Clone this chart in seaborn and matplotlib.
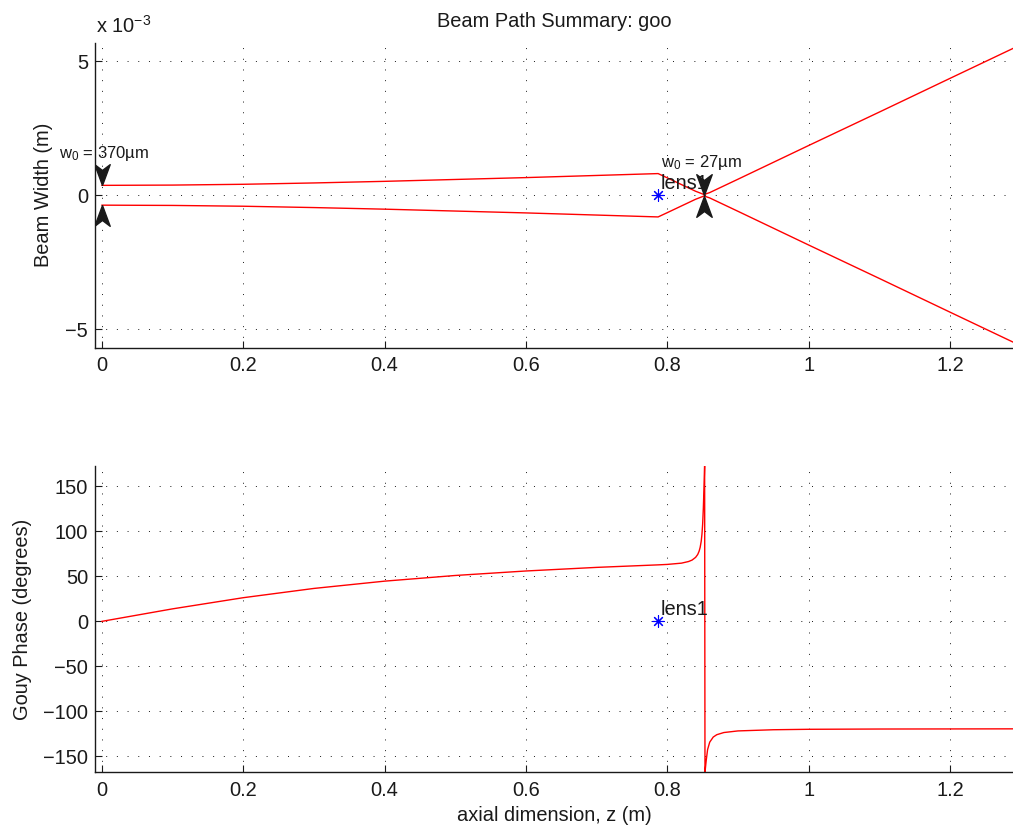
import numpy as np
import matplotlib
matplotlib.use('Agg')
import matplotlib.pyplot as plt
from matplotlib.path import Path
from matplotlib.ticker import FuncFormatter
import seaborn as sns

# beam radius along the path (m)
beam_z = [0.0, 0.1, 0.2, 0.3, 0.4, 0.5, 0.6, 0.7, 0.787, 0.80, 0.82, 0.84,
          0.852, 0.86, 0.90, 1.0, 1.1, 1.2, 1.29]
beam_w = [0.37e-3, 0.38e-3, 0.41e-3, 0.46e-3, 0.52e-3, 0.59e-3, 0.66e-3, 0.74e-3,
          0.81e-3, 0.65e-3, 0.40e-3, 0.15e-3, 0.027e-3, 0.10e-3, 0.60e-3,
          1.86e-3, 3.11e-3, 4.37e-3, 5.50e-3]

# gouy phase (degrees)
gouy_z = [0.0, 0.1, 0.2, 0.3, 0.4, 0.5, 0.6, 0.7, 0.787, 0.80, 0.82, 0.83, 0.835,
          0.84, 0.843, 0.845, 0.8465, 0.848, 0.849, 0.850, 0.851, 0.852, 0.8525,
          0.8528, 0.8533, 0.855, 0.857, 0.86, 0.865, 0.87, 0.88, 0.90, 0.95,
          1.0, 1.1, 1.2, 1.29]
gouy_deg = [0.0, 13.9, 26.3, 36.6, 44.7, 51.0, 56.0, 60.0, 62.8, 63.3, 64.7, 66.5,
            68.1, 71.1, 74.3, 78.0, 82.3, 89.2, 96.6, 108.0, 126.0, 150.9, 164.0,
            172.6, -167.7, -154.8, -142.4, -134.2, -128.5, -125.9, -123.5, -121.7,
            -120.4, -119.9, -119.6, -119.5, -119.4]

# optics and waists
lens_z = [0.787]
lens_names = ['lens1']
waist_z = [0.0, 0.852]
waist_w = [0.37e-3, 0.027e-3]
waist_labels = ['w$_0$ = 370\u00b5m', 'w$_0$ = 27\u00b5m']

sns.set_theme(style='white')
plt.rcParams['font.family'] = ['Liberation Sans', 'DejaVu Sans']
plt.rcParams['mathtext.fontset'] = 'custom'
plt.rcParams['mathtext.rm'] = 'Liberation Sans'
plt.rcParams['mathtext.it'] = 'Liberation Sans:italic'
plt.rcParams['mathtext.bf'] = 'Liberation Sans:bold'
plt.rcParams['text.color'] = 'k'
plt.rcParams['axes.labelcolor'] = 'k'
fs = 14.4


def fmt(scale=1.0):
    return FuncFormatter(lambda v, p: f'{v * scale:g}'.replace('-', '\u2212'))


# matlab style arrow heads (tip at the point)
down_head = Path([(0, 0), (-0.37, 1), (0, 0.72), (0.37, 1), (0, 0)])
up_head = Path([(0, 0), (-0.37, -1), (0, -0.72), (0.37, -1), (0, 0)])

fig = plt.figure(figsize=(10.13, 8.3), dpi=100)
ax1 = fig.add_axes([0.0938, 0.581, 0.9062, 0.3675])
ax2 = fig.add_axes([0.0938, 0.0695, 0.9062, 0.369])

# top panel: beam width
upper = np.array(beam_w)
sns.lineplot(x=beam_z, y=upper, color='red', lw=1, ax=ax1, estimator=None, sort=False)
sns.lineplot(x=beam_z, y=-upper, color='red', lw=1, ax=ax1, estimator=None, sort=False)
ax1.plot(waist_z, waist_w, ls='none', marker=down_head, ms=30, color='k', zorder=5)
ax1.plot(waist_z, -np.array(waist_w), ls='none', marker=up_head, ms=30, color='k', zorder=5)
for z, w, lab in zip(waist_z, waist_w, waist_labels):
    ax1.annotate(lab, xy=(z, w), xytext=(-31, 20), textcoords='offset points',
                 ha='left', va='baseline', fontsize=12, zorder=4)

for ax in (ax1, ax2):
    sns.scatterplot(x=lens_z, y=[0] * len(lens_z), marker=(8, 2, 0), s=70,
                    color='blue', linewidth=0.8, ax=ax, zorder=3)
    for z, name in zip(lens_z, lens_names):
        ax.annotate(name, xy=(z, 0), xytext=(2, 4.5), textcoords='offset points',
                    ha='left', va='baseline', fontsize=fs, zorder=3)

ax1.set_ylim(-5.7e-3, 5.7e-3)
ax1.set_yticks([-5e-3, 0, 5e-3])
ax1.yaxis.set_major_formatter(fmt(1e3))
ax1.set_ylabel('Beam Width (m)', fontsize=fs)
ax1.yaxis.set_label_coords(-0.046, 0.5)
ax1.set_title('Beam Path Summary: goo', fontsize=fs, pad=11)
ax1.annotate('x 10$^{-3}$', xy=(0, 1), xycoords='axes fraction', xytext=(1, 7),
             textcoords='offset points', ha='left', va='baseline', fontsize=fs)

# bottom panel: gouy phase
sns.lineplot(x=gouy_z, y=gouy_deg, color='red', lw=1, ax=ax2, estimator=None, sort=False)
ax2.set_ylim(min(gouy_deg), max(gouy_deg))
ax2.set_yticks([-150, -100, -50, 0, 50, 100, 150])
ax2.yaxis.set_major_formatter(fmt())
ax2.set_ylabel('Gouy Phase (degrees)', fontsize=fs)
ax2.yaxis.set_label_coords(-0.0686, 0.5)
ax2.set_xlabel('axial dimension, z (m)', fontsize=fs)
ax2.xaxis.set_label_coords(0.5, -0.11)

for ax in (ax1, ax2):
    ax.set_xlim(-0.0095, 1.289)
    ax.set_xticks([0, 0.2, 0.4, 0.6, 0.8, 1.0, 1.2])
    ax.xaxis.set_major_formatter(fmt())
    ax.set_axisbelow(True)
    ax.grid(True, color='k', linestyle=(0, (1, 10)), linewidth=0.7)
    ax.tick_params(direction='in', length=5, width=0.8, pad=5, labelsize=fs,
                   bottom=True, left=True, top=False, right=False, colors='k')
    ax.tick_params(axis='x', pad=6)
    sns.despine(ax=ax)
    for s in ('left', 'bottom'):
        ax.spines[s].set_color('k')
        ax.spines[s].set_linewidth(1)

fig.savefig('out.png', dpi=100)
